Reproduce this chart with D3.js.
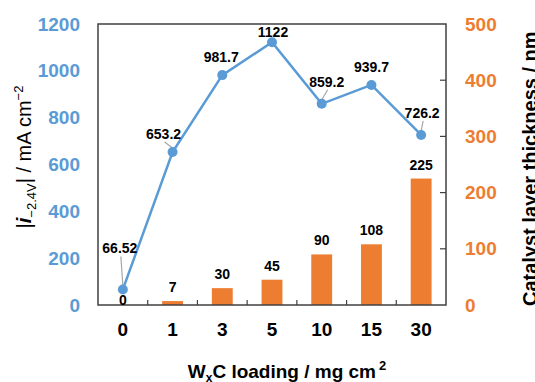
<!DOCTYPE html>
<html>
<head>
<meta charset="utf-8">
<script src="https://cdn.jsdelivr.net/npm/d3@7"></script>
<style>
  body { margin: 0; background: #fff; }
  svg text { font-family: 'Liberation Sans', Arial, sans-serif; }
</style>
</head>
<body>
<svg id="Chart"></svg>
<script>
// data
const loadings = ['0', '1', '3', '5', '10', '15', '30'];
const currentDensity = [66.52, 653.2, 981.7, 1122, 859.2, 939.7, 726.2];
const currentLabels = ['66.52', '653.2', '981.7', '1122', '859.2', '939.7', '726.2'];
const thickness = [0, 7, 30, 45, 90, 108, 225];
const leftTicks = [0, 200, 400, 600, 800, 1000, 1200];
const rightTicks = [0, 100, 200, 300, 400, 500];

// label placement (px, relative to the point / bar top)
const labelOffsets = [[-3, -36], [-9, -13], [-1, -13], [1, -5], [5, -17], [0, -13], [1, -17]];
const hasLeader = [true, true, false, false, true, false, true];
const barLabelDy = [0, -9, -9, -9, -9, -9, -9];

const blue = '#5b9bd5';
const orange = '#ed7d31';

const W = 535, H = 382;
const margin = { top: 24, right: 89, bottom: 77, left: 98 };
const width = W - margin.left - margin.right;
const height = H - margin.top - margin.bottom;

const svg = d3.select('#Chart')
  .attr('width', W)
  .attr('height', H);

const g = svg.append('g')
  .attr('transform', 'translate(' + margin.left + ',' + margin.top + ')');

const x = d3.scaleBand().domain(loadings).range([0, width]).padding(0);
const yLeft = d3.scaleLinear().domain([0, 1200]).range([height, 0]);
const yRight = d3.scaleLinear().domain([0, 500]).range([height, 0]);

const barW = x.bandwidth() * 0.42;

// bars
g.selectAll('.bar')
  .data(thickness)
  .enter().append('rect')
  .attr('class', 'bar')
  .attr('x', (d, i) => x(loadings[i]) + (x.bandwidth() - barW) / 2)
  .attr('width', barW)
  .attr('y', d => yRight(d))
  .attr('height', d => height - yRight(d))
  .attr('fill', orange);

// frame
g.append('rect')
  .attr('x', 0).attr('y', 0)
  .attr('width', width).attr('height', height)
  .attr('fill', 'none')
  .attr('stroke', '#404040')
  .attr('stroke-width', 1.5);

// x ticks between categories (inward)
const xAxis = g.append('g')
  .attr('transform', 'translate(0,' + height + ')');
xAxis.selectAll('line')
  .data(loadings.slice(1))
  .enter().append('line')
  .attr('x1', d => x(d)).attr('x2', d => x(d))
  .attr('y1', 0).attr('y2', -5)
  .attr('stroke', '#404040')
  .attr('stroke-width', 1.2);
xAxis.selectAll('text')
  .data(loadings)
  .enter().append('text')
  .attr('x', d => x(d) + x.bandwidth() / 2)
  .attr('y', 31)
  .attr('text-anchor', 'middle')
  .style('font-size', '19px')
  .style('font-weight', 'bold')
  .attr('fill', '#000')
  .text(d => d);

// left axis labels
g.append('g').selectAll('text')
  .data(leftTicks)
  .enter().append('text')
  .attr('x', -18)
  .attr('y', d => yLeft(d) + 6.5)
  .attr('text-anchor', 'end')
  .style('font-size', '19px')
  .style('font-weight', 'bold')
  .attr('fill', blue)
  .text(d => d);

// right axis ticks and labels
const rAxis = g.append('g').attr('transform', 'translate(' + width + ',0)');
rAxis.selectAll('line')
  .data(rightTicks.slice(1, -1))
  .enter().append('line')
  .attr('x1', 0).attr('x2', -6)
  .attr('y1', d => yRight(d)).attr('y2', d => yRight(d))
  .attr('stroke', '#404040')
  .attr('stroke-width', 1.2);
rAxis.selectAll('text')
  .data(rightTicks)
  .enter().append('text')
  .attr('x', 19)
  .attr('y', d => yRight(d) + 6.5)
  .style('font-size', '19px')
  .style('font-weight', 'bold')
  .attr('fill', orange)
  .text(d => d);

// line series
const cx = (d, i) => x(loadings[i]) + x.bandwidth() / 2;
const line = d3.line()
  .x((d, i) => cx(d, i))
  .y(d => yLeft(d));

g.append('path')
  .datum(currentDensity)
  .attr('d', line)
  .attr('fill', 'none')
  .attr('stroke', blue)
  .attr('stroke-width', 2.5);

// leader lines
currentDensity.forEach((d, i) => {
  if (!hasLeader[i]) return;
  g.append('line')
    .attr('class', 'leader')
    .attr('x1', cx(d, i) + labelOffsets[i][0] + 1)
    .attr('y1', yLeft(d) + labelOffsets[i][1] + 3)
    .attr('x2', cx(d, i))
    .attr('y2', yLeft(d) - 4)
    .attr('stroke', '#a6a6a6')
    .attr('stroke-width', 1.2);
});

g.selectAll('.dot')
  .data(currentDensity)
  .enter().append('circle')
  .attr('class', 'dot')
  .attr('cx', cx)
  .attr('cy', d => yLeft(d))
  .attr('r', 5)
  .attr('fill', blue);

g.selectAll('.ptlabel')
  .data(currentDensity)
  .enter().append('text')
  .attr('class', 'ptlabel')
  .attr('x', (d, i) => cx(d, i) + labelOffsets[i][0])
  .attr('y', (d, i) => yLeft(d) + labelOffsets[i][1])
  .attr('text-anchor', 'middle')
  .style('font-size', '14px')
  .style('font-weight', 'bold')
  .attr('fill', '#000')
  .text((d, i) => currentLabels[i]);

g.selectAll('.barlabel')
  .data(thickness)
  .enter().append('text')
  .attr('class', 'barlabel')
  .attr('x', (d, i) => x(loadings[i]) + x.bandwidth() / 2)
  .attr('y', (d, i) => yRight(d) + barLabelDy[i])
  .attr('text-anchor', 'middle')
  .style('font-size', '14px')
  .style('font-weight', 'bold')
  .attr('fill', '#000')
  .text(d => d);

// axis titles
const leftTitle = svg.append('text')
  .attr('transform', 'translate(31,157) rotate(-90)')
  .attr('text-anchor', 'middle')
  .style('font-size', '20px')
  .attr('fill', '#000');
leftTitle.append('tspan').text('|');
leftTitle.append('tspan').style('font-style', 'italic').style('font-weight', 'bold').text('i');
leftTitle.append('tspan').attr('dy', 5).style('font-size', '13px').text('\u22122.4V');
leftTitle.append('tspan').attr('dy', -5).text('| / mA cm');
leftTitle.append('tspan').attr('dy', -8).style('font-size', '13px').text('\u22122');

svg.append('text')
  .attr('transform', 'translate(537,306) rotate(-90)')
  .attr('text-anchor', 'start')
  .style('font-size', '20px')
  .style('font-weight', 'bold')
  .attr('fill', '#000')
  .text('Catalyst layer thickness / nm');

const xTitle = svg.append('text')
  .attr('x', 287)
  .attr('y', 378)
  .attr('text-anchor', 'middle')
  .style('font-size', '19px')
  .style('font-weight', 'bold')
  .attr('fill', '#000');
xTitle.append('tspan').text('W');
xTitle.append('tspan').attr('dy', 4).style('font-size', '12px').text('x');
xTitle.append('tspan').attr('dy', -4).text('C loading / mg cm');
xTitle.append('tspan').attr('dy', -8).attr('dx', 3).style('font-size', '13px').text('2');
</script>
</body>
</html>
